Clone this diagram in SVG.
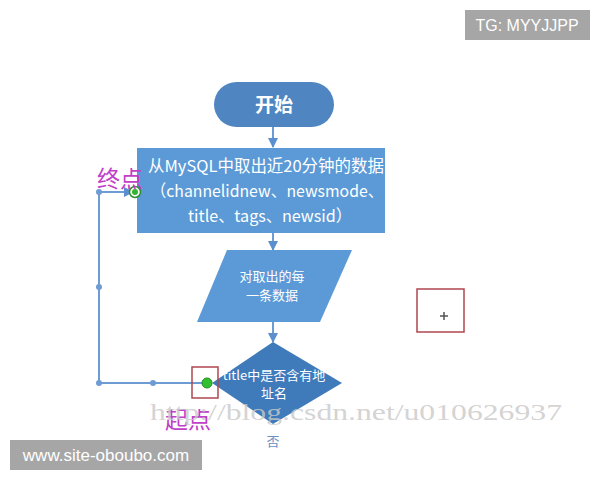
<svg xmlns="http://www.w3.org/2000/svg" width="600" height="480" viewBox="0 0 600 480">
<style>
.t{font-family:"Noto Sans CJK SC","Liberation Sans",sans-serif;fill:#fff;text-anchor:middle}
.ln{stroke:#6d9bd4;stroke-width:2;fill:none}
.dot{fill:#6d9bd4}
.red{fill:none;stroke:#b0474f;stroke-width:1.5}
.mag{font-family:"Noto Sans CJK SC",sans-serif;fill:#c040c8;font-size:23px}
</style>
<defs>
<marker id="ah" viewBox="0 0 10 10" refX="9" refY="5" markerWidth="5" markerHeight="5" orient="auto"><path d="M0,0L10,5L0,10z" fill="#5b8fcf"/></marker>
</defs>
<rect width="600" height="480" fill="#fff"/>
<g id="connectors">
<line class="ln" x1="273" y1="127" x2="273" y2="147" marker-end="url(#ah)"/>
<line class="ln" x1="273" y1="233" x2="273" y2="250" marker-end="url(#ah)"/>
<line class="ln" x1="273" y1="322" x2="273" y2="342" marker-end="url(#ah)"/>
<polyline class="ln" points="207,383 99,383 99,192 133,192" marker-end="url(#ah)"/>
<circle class="dot" cx="99" cy="192" r="3"/>
<circle class="dot" cx="99" cy="287" r="3"/>
<circle class="dot" cx="99" cy="383" r="3"/>
<circle class="dot" cx="153" cy="383" r="3"/>
</g>
<g id="start">
<rect x="214" y="82" width="120" height="45" rx="22.5" fill="#4f86c2"/>
<text class="t" x="274" y="112" font-size="19" font-weight="bold">开始</text>
</g>
<g id="fetch">
<rect x="137" y="148" width="248" height="85" fill="#5b9ad6"/>
<text class="t" x="266" y="172" font-size="16.5" textLength="236" lengthAdjust="spacingAndGlyphs">从MySQL中取出近20分钟的数据</text>
<text class="t" x="267" y="197" font-size="16.5" textLength="233" lengthAdjust="spacingAndGlyphs">（channelidnew、newsmode、</text>
<text class="t" x="270" y="222" font-size="16.5" textLength="164" lengthAdjust="spacingAndGlyphs">title、tags、newsid）</text>
</g>
<g id="each">
<polygon points="227,250 352,250 320,322 197,322" fill="#5b9ad6"/>
<text class="t" x="272" y="281" font-size="13">对取出的每</text>
<text class="t" x="272" y="300" font-size="13">一条数据</text>
</g>
<g id="decision">
<polygon points="273,342 342,383 273,424 212,383" fill="#3f7bba"/>
<text class="t" x="274" y="380" font-size="13">title中是否含有地</text>
<text class="t" x="274" y="398" font-size="13">址名</text>
<text x="273" y="446" font-size="13" fill="#6a8fc4" text-anchor="middle" font-family="Noto Sans CJK SC,sans-serif">否</text>
</g>
<circle cx="135" cy="192" r="5.5" fill="#fff" stroke="#2a8f2a" stroke-width="1.5"/>
<circle cx="135" cy="192" r="3" fill="#33b533"/>
<circle cx="207" cy="383" r="5" fill="#2fbf2f" stroke="#1f8f1f" stroke-width="1"/>
<rect class="red" x="192" y="367" width="26" height="31"/>
<rect class="red" x="417" y="289" width="47" height="43"/>
<path d="M440,316h8M444,312v8" stroke="#555" stroke-width="1.5"/>
<text class="mag" x="97" y="187">终点</text>
<text class="mag" x="165" y="428">起点</text>
<text x="150" y="420" font-family="Liberation Serif,serif" font-size="23" fill="#c8c8c8" fill-opacity="0.8" textLength="412" lengthAdjust="spacingAndGlyphs">http://blog.csdn.net/u010626937</text>
<rect x="465" y="10" width="125" height="30" fill="#a6a6a6"/>
<text x="527" y="31" font-family="Liberation Sans,sans-serif" font-size="16" fill="#fff" text-anchor="middle">TG: MYYJJPP</text>
<rect x="10" y="440" width="192" height="30" fill="#a6a6a6"/>
<text x="106" y="461" font-family="Liberation Sans,sans-serif" font-size="17" fill="#fff" text-anchor="middle">www.site-oboubo.com</text>
</svg>
